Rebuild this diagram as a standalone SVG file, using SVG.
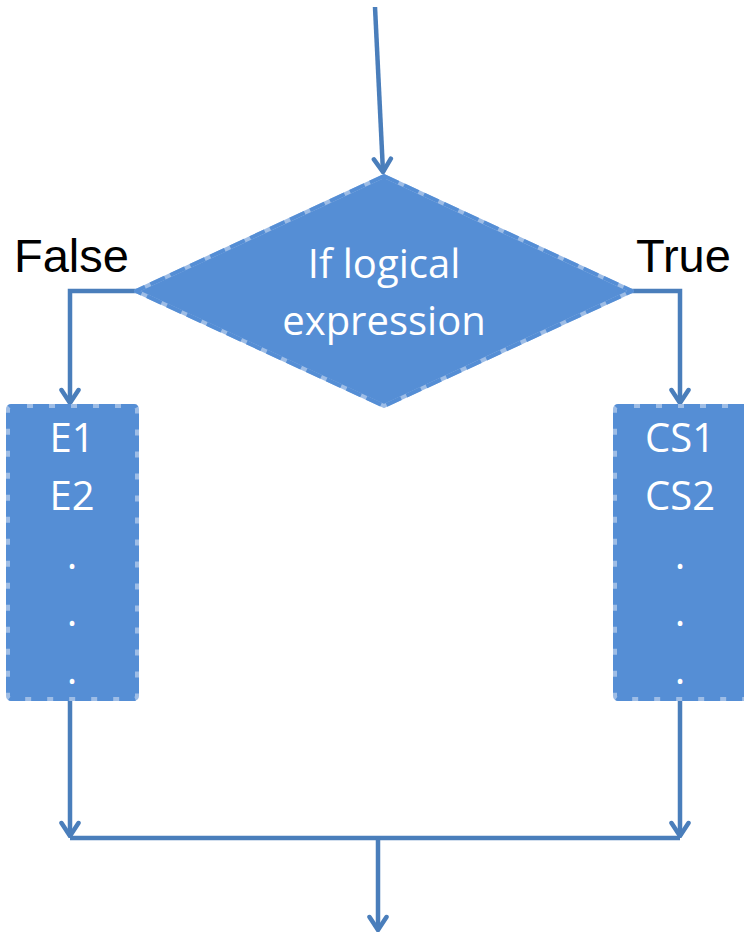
<svg xmlns="http://www.w3.org/2000/svg" width="744" height="934" viewBox="0 0 744 934">
  <style>
    .edge { fill: #558ED5; stroke: #9EBDE6; stroke-width: 4; stroke-linejoin: round; }
    .shape { fill: none; stroke: #558ED5; stroke-width: 4; stroke-dasharray: 16 6; stroke-linejoin: round; }
    .inner { fill: #FFFFFF; font-family: "Open Sans", "Noto Sans", sans-serif; font-size: 40px; text-anchor: middle; }
    .label { fill: #000000; font-family: "Liberation Sans", Arial, sans-serif; font-size: 47px; }
    .wire { fill: none; stroke: #4A7EBB; stroke-width: 4.5; }
  </style>
  <defs>
    <marker id="arrow" viewBox="-16 -12 18 24" markerWidth="18" markerHeight="24" refX="0" refY="0" orient="auto" markerUnits="userSpaceOnUse">
      <path d="M -13 -8.5 L 0 0 L -13 8.5" fill="none" stroke="#4A7EBB" stroke-width="4.5" stroke-linecap="round" stroke-linejoin="miter"/>
    </marker>
  </defs>

  <g id="connectors">
    <path class="wire" d="M 375 7 L 383 172" marker-end="url(#arrow)"/>
    <path class="wire" d="M 137 291 L 70 291 L 70 403" marker-end="url(#arrow)"/>
    <path class="wire" d="M 630 291 L 680 291 L 680 403" marker-end="url(#arrow)"/>
    <path class="wire" d="M 70 700 L 70 836" marker-end="url(#arrow)"/>
    <path class="wire" d="M 680 700 L 680 836" marker-end="url(#arrow)"/>
    <path class="wire" d="M 70 838 L 680 838"/>
    <path class="wire" d="M 378 838 L 378 930" marker-end="url(#arrow)"/>
  </g>

  <g id="decision">
    <polygon class="edge" points="384,176 632,291 384,406 136,291"/>
    <polygon class="shape" points="384,176 632,291 384,406 136,291"/>
    <text class="inner" x="384" y="278">If logical</text>
    <text class="inner" x="384" y="335">expression</text>
  </g>

  <g id="false-branch">
    <rect class="edge" x="8" y="406" width="129" height="293" rx="3"/>
    <rect class="shape" x="8" y="406" width="129" height="293" rx="3"/>
    <text class="inner" x="72" y="452">E1</text>
    <text class="inner" x="72" y="510">E2</text>
    <text class="inner" x="72" y="569">.</text>
    <text class="inner" x="72" y="626">.</text>
    <text class="inner" x="72" y="684">.</text>
  </g>

  <g id="true-branch">
    <rect class="edge" x="615" y="406" width="140" height="293" rx="3"/>
    <rect class="shape" x="615" y="406" width="140" height="293" rx="3"/>
    <text class="inner" x="680" y="452">CS1</text>
    <text class="inner" x="680" y="510">CS2</text>
    <text class="inner" x="680" y="569">.</text>
    <text class="inner" x="680" y="626">.</text>
    <text class="inner" x="680" y="684">.</text>
  </g>

  <g id="labels">
    <text class="label" x="14" y="272">False</text>
    <text class="label" x="636" y="272">True</text>
  </g>
</svg>
